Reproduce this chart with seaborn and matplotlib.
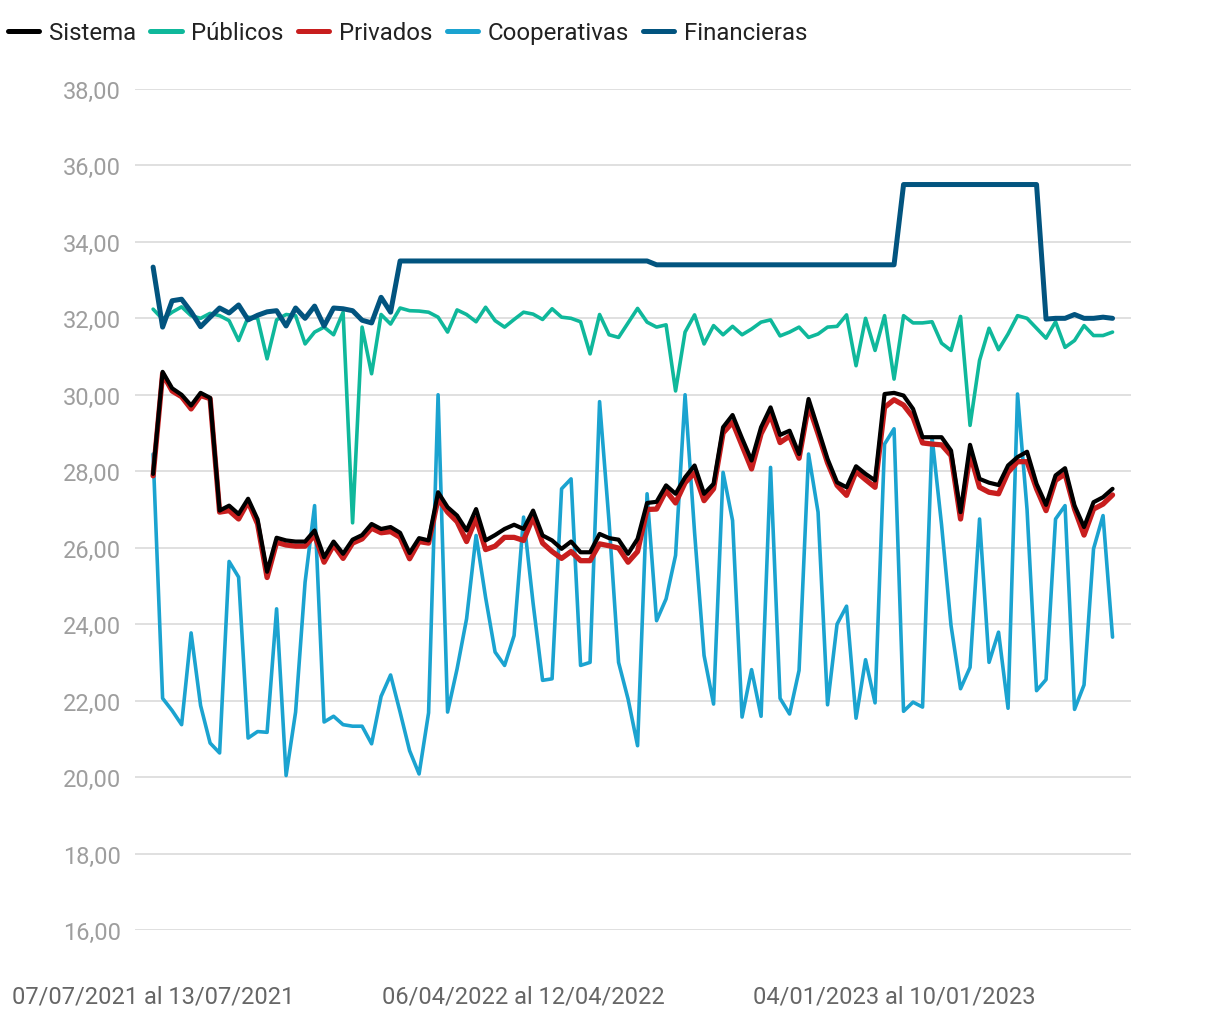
import numpy as np
import pandas as pd
import matplotlib
matplotlib.use("Agg")
import matplotlib.pyplot as plt
from matplotlib.lines import Line2D
from matplotlib.ticker import FuncFormatter
import seaborn as sns

# semanas (inicio de cada semana)
semanas = pd.date_range("2021-07-07", periods=102, freq="7D")
etiquetas = [f"{d:%d/%m/%Y} al {(d + pd.Timedelta(days=6)):%d/%m/%Y}" for d in semanas]

sistema = [27.93, 30.6, 30.17, 30.0, 29.72, 30.05, 29.92, 26.97, 27.1, 26.88,
           27.28, 26.74, 25.37, 26.26, 26.19, 26.16, 26.16, 26.45, 25.75, 26.16,
           25.84, 26.21, 26.33, 26.62, 26.49, 26.54, 26.39, 25.86, 26.25, 26.19,
           27.45, 27.06, 26.84, 26.45, 27.01, 26.19, 26.33, 26.49, 26.6, 26.49,
           26.97, 26.32, 26.19, 25.97, 26.16, 25.88, 25.88, 26.36, 26.25, 26.21,
           25.84, 26.23, 27.17, 27.2, 27.63, 27.41, 27.84, 28.15, 27.41, 27.67,
           29.15, 29.47, 28.86, 28.28, 29.15, 29.67, 28.95, 29.06, 28.45, 29.89,
           29.11, 28.32, 27.71, 27.58, 28.13, 27.93, 27.76, 30.02, 30.05, 29.98,
           29.63, 28.89, 28.89, 28.89, 28.54, 26.93, 28.69, 27.8, 27.7, 27.64,
           28.15, 28.37, 28.51, 27.67, 27.12, 27.89, 28.08, 27.1, 26.54, 27.19,
           27.32, 27.54]

privados = [27.88, 30.55, 30.1, 29.95, 29.63, 29.98, 29.9, 26.93, 26.97, 26.75,
            27.2, 26.62, 25.22, 26.14, 26.07, 26.04, 26.04, 26.33, 25.62, 26.07,
            25.72, 26.12, 26.23, 26.51, 26.39, 26.42, 26.27, 25.71, 26.16, 26.12,
            27.28, 26.93, 26.68, 26.16, 26.77, 25.95, 26.04, 26.27, 26.27, 26.19,
            26.8, 26.12, 25.9, 25.72, 25.9, 25.66, 25.66, 26.1, 26.05, 25.99,
            25.62, 25.9, 27.0, 27.01, 27.49, 27.17, 27.7, 27.96, 27.23, 27.54,
            29.0, 29.28, 28.67, 28.06, 28.98, 29.47, 28.75, 28.92, 28.34, 29.72,
            28.98, 28.22, 27.63, 27.37, 27.99, 27.78, 27.58, 29.67, 29.87, 29.73,
            29.41, 28.74, 28.71, 28.69, 28.41, 26.75, 28.45, 27.58, 27.45, 27.41,
            27.97, 28.25, 28.25, 27.54, 26.97, 27.76, 27.93, 27.01, 26.33, 27.01,
            27.14, 27.38]

publicos = [32.24, 31.98, 32.16, 32.3, 32.07, 32.0, 32.13, 32.07, 31.94, 31.42,
            32.03, 32.0, 30.94, 31.96, 32.1, 32.07, 31.33, 31.64, 31.77, 31.57,
            32.16, 26.65, 31.77, 30.55, 32.1, 31.85, 32.27, 32.2, 32.19, 32.16,
            32.03, 31.64, 32.22, 32.1, 31.91, 32.29, 31.94, 31.77, 31.97, 32.16,
            32.11, 31.97, 32.25, 32.03, 32.0, 31.91, 31.07, 32.1, 31.57, 31.5,
            31.88, 32.26, 31.9, 31.77, 31.83, 30.1, 31.64, 32.09, 31.33, 31.81,
            31.57, 31.79, 31.57, 31.72, 31.9, 31.96, 31.54, 31.64, 31.77, 31.5,
            31.59, 31.77, 31.79, 32.09, 30.76, 32.0, 31.16, 32.07, 30.41, 32.07,
            31.88, 31.88, 31.91, 31.35, 31.16, 32.05, 29.2, 30.9, 31.74, 31.18,
            31.59, 32.07, 32.0, 31.74, 31.48, 31.91, 31.24, 31.42, 31.81, 31.55,
            31.55, 31.64]

cooperativas = [28.45, 22.06, 21.74, 21.37, 23.77, 21.87, 20.89, 20.63, 25.64, 25.23,
                21.02, 21.19, 21.17, 24.4, 20.04, 21.7, 25.1, 27.1, 21.44, 21.59,
                21.37, 21.33, 21.33, 20.87, 22.11, 22.67, 21.7, 20.69, 20.08, 21.68,
                30.0, 21.7, 22.83, 24.14, 26.32, 24.7, 23.27, 22.92, 23.7, 26.8,
                24.55, 22.53, 22.57, 27.54, 27.8, 22.92, 23.0, 29.82, 26.67, 23.0,
                22.04, 20.82, 27.41, 24.09, 24.66, 25.8, 30.0, 26.4, 23.18, 21.91,
                27.97, 26.71, 21.57, 22.81, 21.59, 28.1, 22.06, 21.65, 22.79, 28.45,
                26.93, 21.89, 24.0, 24.47, 21.54, 23.07, 21.94, 28.71, 29.11, 21.72,
                21.96, 21.83, 28.89, 26.6, 23.96, 22.31, 22.87, 26.75, 23.0, 23.79,
                21.8, 30.02, 27.0, 22.26, 22.55, 26.75, 27.1, 21.77, 22.41, 25.97,
                26.84, 23.66]

financieras = [33.34, 31.77, 32.46, 32.5, 32.17, 31.78, 32.03, 32.27, 32.14, 32.35,
               31.96, 32.08, 32.17, 32.2, 31.8, 32.27, 32.0, 32.32, 31.8, 32.27,
               32.25, 32.2, 31.95, 31.88, 32.55, 32.16, 33.5, 33.5, 33.5, 33.5,
               33.5, 33.5, 33.5, 33.5, 33.5, 33.5, 33.5, 33.5, 33.5, 33.5,
               33.5, 33.5, 33.5, 33.5, 33.5, 33.5, 33.5, 33.5, 33.5, 33.5,
               33.5, 33.5, 33.5, 33.4, 33.4, 33.4, 33.4, 33.4, 33.4, 33.4,
               33.4, 33.4, 33.4, 33.4, 33.4, 33.4, 33.4, 33.4, 33.4, 33.4,
               33.4, 33.4, 33.4, 33.4, 33.4, 33.4, 33.4, 33.4, 33.4, 35.5,
               35.5, 35.5, 35.5, 35.5, 35.5, 35.5, 35.5, 35.5, 35.5, 35.5,
               35.5, 35.5, 35.5, 35.5, 31.98, 32.0, 32.0, 32.1, 32.0, 32.0,
               32.03, 32.0]

df = pd.DataFrame({"semana": np.arange(len(semanas)), "Sistema": sistema,
                   "Públicos": publicos, "Privados": privados,
                   "Cooperativas": cooperativas, "Financieras": financieras})

colores = {"Sistema": "#000000", "Públicos": "#0fb89b", "Privados": "#c81e1e",
           "Cooperativas": "#1ba3d0", "Financieras": "#02547f"}
grosor = {"Sistema": 3.0, "Públicos": 2.6, "Privados": 3.8,
          "Cooperativas": 2.6, "Financieras": 3.6}

sns.set_theme(style="white")
plt.rcParams["font.family"] = ["Roboto", "DejaVu Sans"]

fig = plt.figure(figsize=(12.2, 10.2), dpi=100)
ax = fig.add_axes([0.1107, 0.0873, 0.8164, 0.8245])

# orden de dibujo (la de abajo primero)
for serie in ["Cooperativas", "Públicos", "Financieras", "Privados", "Sistema"]:
    sns.lineplot(data=df, x="semana", y=serie, ax=ax, color=colores[serie],
                 linewidth=grosor[serie], legend=False)

ax.set_ylim(16, 38)
ax.set_yticks(np.arange(16, 39, 2))
ax.yaxis.set_major_formatter(FuncFormatter(lambda v, p: f"{v:.2f}".replace(".", ",")))
ax.set_xlim(-1.9, 102.95)
pos = list(range(0, len(semanas), 39))
ax.set_xticks(pos)
ax.set_xticklabels([etiquetas[i] for i in pos])
ax.set_xlabel("")
ax.set_ylabel("")
ax.grid(axis="y", color="#e0e0e0", linewidth=1.4)
ax.grid(axis="x", visible=False)
ax.set_axisbelow(True)
for s in ax.spines.values():
    s.set_visible(False)
ax.tick_params(axis="y", length=0, pad=10, labelsize=17, labelcolor="#9e9e9e")
ax.tick_params(axis="x", length=0, pad=39, labelsize=17, labelcolor="#666666")

nombres = ["Sistema", "Públicos", "Privados", "Cooperativas", "Financieras"]
handles = [Line2D([0], [0], color=colores[n], linewidth=3.6, solid_capstyle="round") for n in nombres]
fig.legend(handles, nombres, loc="center left", bbox_to_anchor=(0.0065, 0.967), ncol=5,
           frameon=False, fontsize=17.3, handlelength=1.3, handletextpad=0.4,
           columnspacing=0.6, borderpad=0, borderaxespad=0, labelcolor="#222222")

fig.savefig("out.png", dpi=100)
